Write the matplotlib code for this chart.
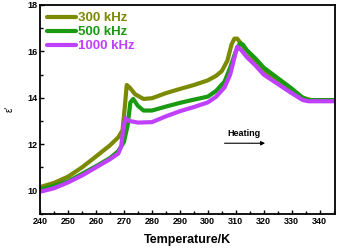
import numpy as np
import matplotlib
matplotlib.use("Agg")
import matplotlib.pyplot as plt
from matplotlib.ticker import MultipleLocator

plt.rcParams['font.family'] = ['Liberation Sans', 'DejaVu Sans']

# 300 kHz
t_300 = [240, 245, 250, 255, 260, 265, 268, 269.5, 270.3, 271, 272, 274, 277, 280, 285, 290,
         295, 300, 303, 305, 307, 308.5, 309.5, 310.5, 311.5, 313, 316, 320, 325, 330, 334, 337, 345]
e_300 = [10.15, 10.33, 10.6, 11.0, 11.47, 11.95, 12.3, 12.6, 13.6, 14.55, 14.45, 14.15, 13.95, 13.98, 14.2, 14.38,
         14.55, 14.75, 14.95, 15.15, 15.6, 16.3, 16.55, 16.55, 16.4, 16.15, 15.75, 15.2, 14.7, 14.3, 14.0, 13.9, 13.9]

# 500 kHz
t_500 = [240, 245, 250, 255, 260, 265, 268, 270, 271.3, 272.3, 273.3, 275, 277, 280, 285, 290,
         295, 300, 303, 306, 308, 310, 311.5, 312.5, 314, 317, 320, 325, 330, 334, 336, 345]
e_500 = [10.05, 10.2, 10.4, 10.72, 11.05, 11.4, 11.7, 12.1, 12.8, 13.8, 13.95, 13.65, 13.45, 13.45, 13.62, 13.78,
         13.92, 14.05, 14.3, 14.7, 15.3, 16.0, 16.35, 16.3, 16.05, 15.7, 15.3, 14.85, 14.4, 14.0, 13.9, 13.9]

# 1000 kHz
t_1000 = [240, 245, 250, 255, 260, 265, 268, 269, 269.7, 270.5, 272, 275, 280, 285, 290,
          295, 300, 303, 306, 308, 310.5, 312, 314, 317, 320, 325, 330, 334, 336, 345]
e_1000 = [9.95, 10.1, 10.35, 10.65, 11.0, 11.35, 11.6, 11.9, 12.6, 13.12, 13.0, 12.93, 12.95, 13.2, 13.42,
          13.6, 13.8, 14.05, 14.45, 15.0, 16.2, 16.05, 15.75, 15.4, 15.0, 14.6, 14.2, 13.9, 13.85, 13.85]

labels = ['300 kHz', '500 kHz', '1000 kHz']
colors = ['#7b8a00', '#1a9a10', '#c040ff']

fig = plt.figure(figsize=(3.37, 2.5), dpi=100)
ax = fig.add_axes([0.119, 0.145, 0.875, 0.835])

ax.plot(t_300, e_300, color=colors[0], lw=3, label=labels[0], solid_capstyle='round')
ax.plot(t_500, e_500, color=colors[1], lw=3, label=labels[1], solid_capstyle='round')
ax.plot(t_1000, e_1000, color=colors[2], lw=3, label=labels[2], solid_capstyle='round')

ax.set_xlim(240, 345.5)
ax.set_ylim(9, 18)
ax.xaxis.set_major_locator(MultipleLocator(10))
ax.xaxis.set_minor_locator(MultipleLocator(5))
ax.yaxis.set_major_locator(MultipleLocator(2))
ax.yaxis.set_minor_locator(MultipleLocator(1))
ax.tick_params(which='both', direction='in', labelsize=6.5, pad=2)
ax.tick_params(which='major', length=3, width=1)
ax.tick_params(which='minor', length=2, width=1)
for lab in ax.get_xticklabels() + ax.get_yticklabels():
    lab.set_fontweight('bold')
for s in ax.spines.values():
    s.set_linewidth(1.3)

ax.set_xlabel('Temperature/K', fontsize=9, fontweight='bold', labelpad=6)
ax.set_ylabel("ε'", fontsize=7, labelpad=9)

leg = ax.legend(loc='upper left', frameon=False, handlelength=2.2,
                handletextpad=0.15, labelspacing=0.12, borderaxespad=0.15,
                prop={'weight': 'bold', 'size': 9.5})
for txt, c in zip(leg.get_texts(), colors):
    txt.set_color(c)

ax.annotate('', xy=(321.5, 12.04), xytext=(305, 12.04),
            arrowprops=dict(arrowstyle='-|>', color='black', lw=0.8, mutation_scale=6))
ax.text(313, 12.45, 'Heating', fontsize=6.5, fontweight='bold', ha='center', va='center')

fig.savefig('out.png', dpi=100)
